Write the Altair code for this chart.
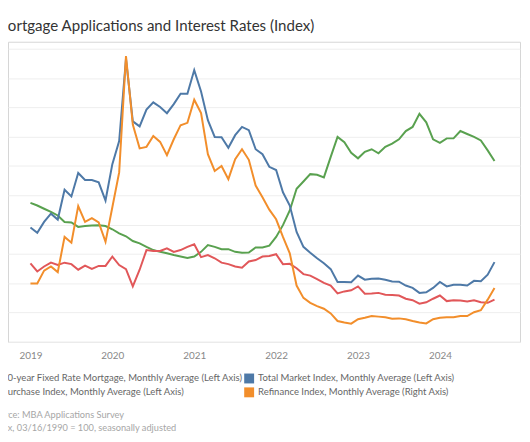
import altair as alt
import pandas as pd

# month index 0 = Jan 2019 ... 68 = Sep 2024
months = list(range(69))

total_market = [390, 372, 409, 437, 417, 519, 496, 576, 552, 552,
                544, 482, 606, 685, 965, 752, 735, 792, 817, 801,
                780, 811, 846, 846, 927, 854, 756, 699, 698, 662,
                705, 733, 722, 657, 640, 597, 586, 510, 465, 375,
                324, 304, 285, 268, 248, 204, 204, 203, 226, 212,
                215, 216, 212, 206, 205, 192, 184, 167, 169, 184,
                204, 189, 195, 195, 192, 208, 207, 229, 272]
refinance = [199, 199, 243, 257, 238, 358, 338, 463, 409, 422,
             407, 341, 459, 578, 975, 741, 660, 665, 702, 682,
             637, 691, 739, 747, 826, 780, 640, 583, 600, 555,
             623, 657, 621, 533, 493, 451, 418, 358, 302, 192,
             150, 133, 122, 113, 97, 71, 66, 62, 77, 82,
             88, 86, 84, 79, 80, 77, 71, 66, 63, 77,
             82, 84, 84, 88, 88, 101, 108, 144, 184]
rate_30y = [474, 465, 454, 443, 431, 409, 407, 392, 395, 397,
            398, 395, 384, 370, 360, 344, 336, 324, 313, 307,
            302, 296, 291, 286, 291, 307, 330, 324, 316, 316,
            307, 304, 305, 322, 322, 328, 358, 398, 448, 522,
            547, 572, 570, 561, 631, 699, 681, 645, 626, 648,
            657, 643, 665, 676, 691, 719, 733, 778, 749, 691,
            679, 694, 694, 719, 709, 699, 687, 653, 617]
purchase = [268, 240, 257, 270, 262, 270, 265, 246, 260, 249,
            259, 259, 291, 262, 248, 189, 246, 313, 310, 310,
            319, 307, 313, 324, 333, 289, 296, 285, 270, 265,
            257, 253, 274, 279, 291, 293, 299, 265, 266, 251,
            231, 226, 214, 201, 192, 165, 172, 176, 189, 164,
            165, 167, 161, 160, 158, 147, 142, 130, 135, 147,
            158, 139, 142, 141, 138, 142, 135, 133, 144]

S_RATE = "30-year Fixed Rate Mortgage, Monthly Average (Left Axis)"
S_TOTAL = "Total Market Index, Monthly Average (Left Axis)"
S_PURCH = "Purchase Index, Monthly Average (Left Axis)"
S_REFI = "Refinance Index, Monthly Average (Right Axis)"

legend_order = [S_RATE, S_PURCH, S_TOTAL, S_REFI]
colors = ["#59a14f", "#e15759", "#4e79a7", "#f28e2b"]
draw_order = [(S_RATE, rate_30y), (S_PURCH, purchase), (S_TOTAL, total_market), (S_REFI, refinance)]
year_ticks = [0, 12, 24, 36, 48, 60]

rows = []
for name, vals in draw_order:
    for m, v in zip(months, vals):
        rows.append({"month": m, "value": v, "series": name})
df = pd.DataFrame(rows)

FONT = "Lato"

x_enc = alt.X("month:Q",
              scale=alt.Scale(domain=[-3.29, 71.74], nice=False, zero=False),
              axis=alt.Axis(values=year_ticks, labelExpr="2019 + datum.value / 12",
                            grid=False, ticks=False, tickSize=0, domain=False,
                            labelPadding=9, labelFontSize=10, labelColor="#888888",
                            labelFont=FONT, title=None))
y_enc = alt.Y("value:Q",
              scale=alt.Scale(domain=[0, 1023.6], nice=False, zero=False),
              axis=alt.Axis(values=list(range(0, 1001, 100)), labels=False, ticks=False,
                            domain=False, grid=True, gridColor="#eeeeee", title=None))
color_scale = alt.Scale(domain=legend_order, range=colors)

base = alt.Chart(df)
lines = [base.transform_filter(alt.datum.series == name)
         .mark_line(strokeWidth=2)
         .encode(x=x_enc, y=y_enc,
                 color=alt.Color("series:N", scale=color_scale, legend=None))
         for name, _ in draw_order]

legend_layer = base.mark_square(opacity=0, filled=True, size=1).encode(
    x=x_enc, y=y_enc,
    color=alt.Color("series:N", scale=color_scale,
                    legend=alt.Legend(orient="none", legendX=-20, legendY=335,
                                      columns=2, columnPadding=0.5, rowPadding=4,
                                      padding=0, title=None,
                                      symbolType="square", symbolSize=100,
                                      symbolStrokeWidth=0, symbolOpacity=1,
                                      labelOffset=4,
                                      labelFont=FONT, labelFontSize=9.6,
                                      labelColor="#666666", labelLimit=500)))

one = alt.Data(values=[{}])
title_txt = alt.Chart(one).mark_text(
    text="Mortgage Applications and Interest Rates (Index)", align="left",
    baseline="alphabetic", font=FONT, fontSize=15.2, color="#333333"
).encode(x=alt.value(-14), y=alt.value(-10.7))
src1 = alt.Chart(one).mark_text(
    text="Source: MBA Applications Survey", align="left", baseline="middle",
    font=FONT, fontSize=9.3, color="#a6a6a6"
).encode(x=alt.value(-18.5), y=alt.value(376.5))
src2 = alt.Chart(one).mark_text(
    text="Index, 03/16/1990 = 100, seasonally adjusted", align="left", baseline="middle",
    font=FONT, fontSize=9.3, color="#a6a6a6"
).encode(x=alt.value(-18), y=alt.value(390))

chart = alt.layer(legend_layer, *lines, title_txt, src1, src2).properties(
    width=517, height=303,
    autosize=alt.AutoSizeParams(type="none"),
    padding={"left": 0, "top": 32, "right": 2, "bottom": 94},
).configure_view(stroke="#d6d6d6", strokeWidth=1)

chart.save("out.html", embed_options={"renderer": "svg", "actions": False})
